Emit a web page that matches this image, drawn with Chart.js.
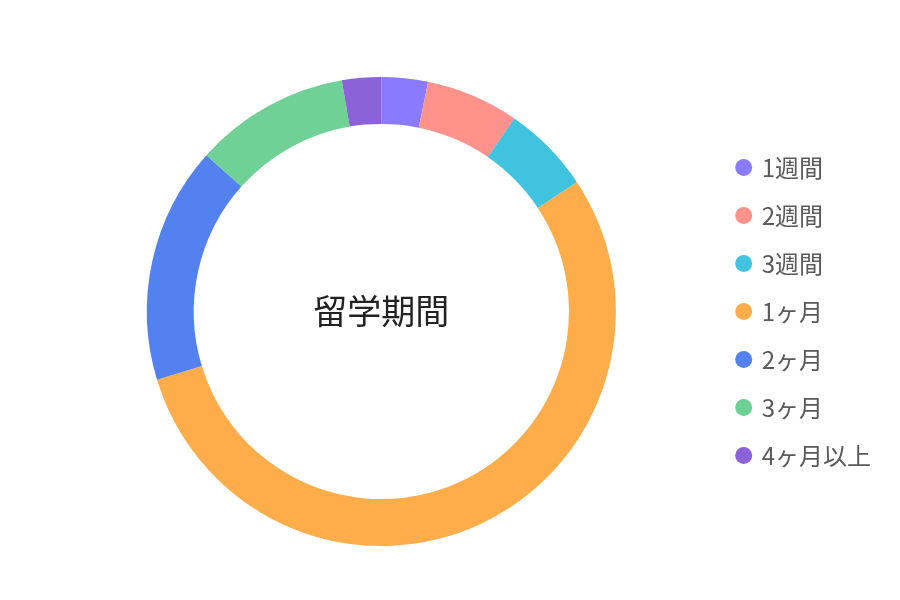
<!DOCTYPE html>
<html lang="ja">
<head>
<meta charset="utf-8">
<script src="https://cdn.jsdelivr.net/npm/chart.js@4/dist/chart.umd.min.js"></script>
<style>
  html, body { margin: 0; padding: 0; background: #fff; }
  #wrap { width: 900px; height: 600px; }
</style>
</head>
<body>
<div id="wrap"><canvas id="chart" width="900" height="600"></canvas></div>
<script>
// Data
const labels = ['1週間', '2週間', '3週間', '1ヶ月', '2ヶ月', '3ヶ月', '4ヶ月以上'];
const values = [3.2, 6.4, 6.1, 54.6, 16.3, 10.7, 2.7];
const sliceColors = ['#8a7bfe', '#ff938c', '#3fc3df', '#ffad4a', '#5481f0', '#6fd196', '#8c62d8'];
const centerLabel = '留学期間';

const fontFamily = '"Noto Sans CJK JP", "Noto Sans", sans-serif';

// Center text plugin
const centerText = {
    id: 'centerText',
    afterDraw(chart) {
        const meta = chart.getDatasetMeta(0);
        if (!meta.data.length) return;
        const { x, y } = meta.data[0];
        const ctx = chart.ctx;
        ctx.save();
        ctx.font = `34px ${fontFamily}`;
        ctx.fillStyle = '#222';
        ctx.textAlign = 'center';
        ctx.textBaseline = 'middle';
        ctx.fillText(centerLabel, x, y);
        ctx.restore();
    }
};

const ctx = document.getElementById('chart').getContext('2d');
new Chart(ctx, {
    type: 'doughnut',
    data: {
        labels: labels,
        datasets: [{
            data: values,
            backgroundColor: sliceColors,
            borderWidth: 0
        }]
    },
    options: {
        responsive: false,
        animation: false,
        cutout: '80%',
        layout: {
            padding: { top: 77, bottom: 54, left: 49, right: 19 }
        },
        plugins: {
            legend: {
                position: 'right',
                labels: {
                    color: '#5a5a5a',
                    padding: 24,
                    boxWidth: 12,
                    boxHeight: 12,
                    usePointStyle: true,
                    pointStyle: 'circle',
                    font: { size: 24, family: fontFamily }
                }
            },
            tooltip: { enabled: false }
        }
    },
    plugins: [centerText]
});
</script>
</body>
</html>
